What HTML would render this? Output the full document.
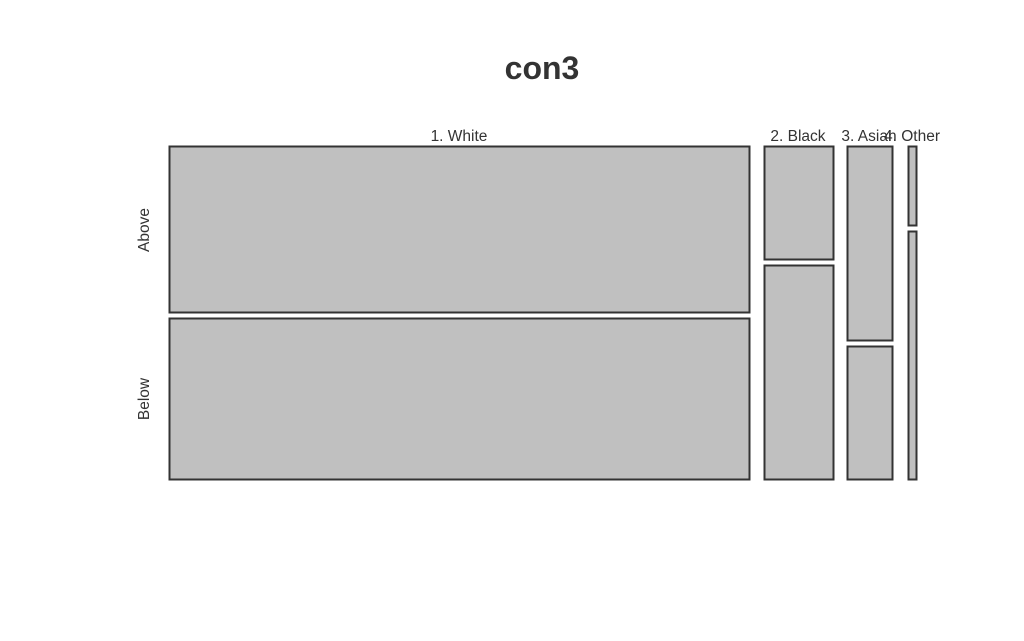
<!DOCTYPE html>
<html><head><meta charset="utf-8"><style>body{margin:0;background:#fff}svg{display:block}</style></head>
<body>
<svg width="1024" height="641" xmlns="http://www.w3.org/2000/svg" font-family="Liberation Sans, sans-serif">
<rect width="1024" height="641" fill="#fff"/>
<text x="542" y="79" text-anchor="middle" font-size="32" font-weight="bold" fill="#333">con3</text>
<g fill="#c0c0c0" stroke="#333" stroke-width="2">
<rect x="169.5" y="146.5" width="580" height="166"/>
<rect x="169.5" y="318.5" width="580" height="161"/>
<rect x="764.5" y="146.5" width="69" height="113"/>
<rect x="764.5" y="265.5" width="69" height="214"/>
<rect x="847.5" y="146.5" width="45" height="194"/>
<rect x="847.5" y="346.5" width="45" height="133"/>
<rect x="908.5" y="146.5" width="8" height="79"/>
<rect x="908.5" y="231.5" width="8" height="248"/>
</g>
<g font-size="15.5" fill="#333">
<text x="459" y="141" text-anchor="middle">1. White</text>
<text x="798" y="141" text-anchor="middle">2. Black</text>
<text x="869" y="141" text-anchor="middle">3. Asian</text>
<text x="912" y="141" text-anchor="middle">4. Other</text>
<text transform="translate(149,230) rotate(-90)" text-anchor="middle">Above</text>
<text transform="translate(149,399) rotate(-90)" text-anchor="middle">Below</text>
</g>
</svg>
</body></html>
